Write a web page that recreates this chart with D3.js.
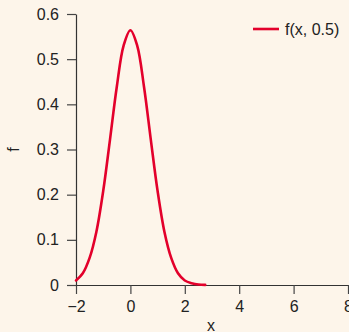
<!DOCTYPE html>
<html>
<head>
<meta charset="utf-8">
<script src="https://cdn.jsdelivr.net/npm/d3@7"></script>
<style>
  body { margin: 0; background: #fdf5ea; }
  svg { display: block; font-family: "Liberation Sans", Arial, sans-serif; }
</style>
</head>
<body>
<svg id="chart" width="349" height="332"></svg>
<script>
// values
var xs = [-2, -1.75, -1.5, -1.25, -1, -0.75, -0.5, -0.25, 0, 0.25, 0.5, 0.75, 1, 1.25, 1.5, 1.75, 2, 2.25, 2.5, 2.75];
var fs = [0.010, 0.026, 0.060, 0.118, 0.208, 0.322, 0.439, 0.530, 0.564, 0.530, 0.439, 0.322, 0.208, 0.118, 0.060, 0.026, 0.010, 0.004, 0.001, 0.0003];
var xTicks = [-2, 0, 2, 4, 6, 8];
var yTicks = [0, 0.1, 0.2, 0.3, 0.4, 0.5, 0.6];
var seriesName = "f(x, 0.5)";

var svg = d3.select("#chart");
var margin = {left: 76, top: 14, right: 1, bottom: 47};
var W = 349, H = 332;

var x = d3.scaleLinear().domain([-2, 8]).range([margin.left, W - margin.right]);
var y = d3.scaleLinear().domain([0, 0.6]).range([H - margin.bottom, margin.top]);

var fmt = d => d3.format("~g")(d).replace("-", "\u2212");

var xAxis = svg.append("g")
  .attr("transform", `translate(0,${y(0)})`)
  .call(d3.axisBottom(x).tickValues(xTicks).tickSize(9).tickPadding(7).tickSizeOuter(0).tickFormat(fmt));

var yAxis = svg.append("g")
  .attr("transform", `translate(${x(-2)},0)`)
  .call(d3.axisLeft(y).tickValues(yTicks).tickSize(9).tickPadding(8).tickSizeOuter(0).tickFormat(fmt));

[xAxis, yAxis].forEach(g => {
  g.select(".domain").attr("stroke", "#333").attr("stroke-width", 1.2);
  g.selectAll(".tick line").attr("stroke", "#444").attr("stroke-width", 1.2);
  g.selectAll(".tick text").attr("fill", "#222").attr("font-size", 16);
});

svg.append("text")
  .attr("x", 211).attr("y", 331)
  .attr("text-anchor", "middle").attr("font-size", 16).attr("fill", "#222")
  .text("x");

svg.append("text")
  .attr("transform", `translate(19,${y(0.3)}) rotate(-90)`)
  .attr("text-anchor", "middle").attr("font-size", 16).attr("fill", "#222")
  .text("f");

var line = d3.line()
  .x((d, i) => x(xs[i]))
  .y(d => y(d))
  .curve(d3.curveCatmullRom);

svg.append("path")
  .datum(fs)
  .attr("d", line)
  .attr("fill", "none")
  .attr("stroke", "#e3002b")
  .attr("stroke-width", 2.6)
  .attr("stroke-linecap", "round");

// legend
var lg = svg.append("g").attr("transform", "translate(253,29)");
lg.append("line").attr("x1", 0).attr("x2", 26).attr("y1", 0).attr("y2", 0)
  .attr("stroke", "#e3002b").attr("stroke-width", 2.6);
lg.append("text").attr("x", 32).attr("y", 5.5).attr("font-size", 16).attr("fill", "#222")
  .text(seriesName);
</script>
</body>
</html>
